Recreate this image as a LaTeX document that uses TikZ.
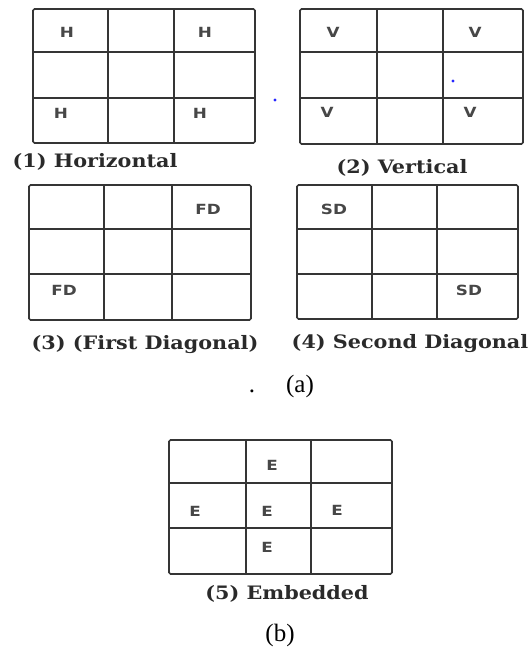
\documentclass[tikz,border=0pt]{standalone}
\usepackage{fontspec}
\setmainfont{Liberation Serif}
\newfontfamily\capfont{DejaVu Serif}
\newfontfamily\lblfont{DejaVu Sans}
\definecolor{gridgray}{HTML}{353535}
\definecolor{lblgray}{HTML}{474747}
\definecolor{capcolor}{HTML}{2A2A2A}
\newcommand{\threegrid}[8]{%
  \draw[gridline, rounded corners=1.5bp] (#1,#5) rectangle (#4,#8);
  \draw[gridline] (#2,#5) -- (#2,#8) (#3,#5) -- (#3,#8) (#1,#6) -- (#4,#6) (#1,#7) -- (#4,#7);
}
\newcommand{\wideL}[1]{\scalebox{1.2}[1]{#1}}
\newcommand{\wideC}[1]{\scalebox{1.12}[1]{#1}}
\tikzset{
  gridline/.style={draw=gridgray, line width=1.7bp},
  cell/.style={font=\lblfont\bfseries\fontsize{14bp}{16bp}\selectfont, text=lblgray, inner sep=0pt},
  capt/.style={font=\capfont\bfseries\fontsize{18.5bp}{20bp}\selectfont, text=capcolor, anchor=base, inner sep=0pt},
  sub/.style={font=\fontsize{25bp}{28bp}\selectfont, text=black, anchor=base, inner sep=0pt},
  bluedot/.style={fill=blue!85!white, draw=none},
}
\begin{document}
\begin{tikzpicture}[x=1bp,y=-1bp]
\useasboundingbox (0,0) rectangle (532,649);
\fill[white] (0,0) rectangle (532,649);
% grids
\threegrid{33}{108}{174}{255}{9}{52}{98}{143}
\threegrid{300}{377}{443}{523}{9}{52}{98}{144}
\threegrid{29}{104}{172}{251}{185}{229}{274}{320}
\threegrid{297}{372}{437}{518}{185}{229}{274}{319}
\threegrid{169}{246}{311}{392}{440}{483}{528}{574}
% labels grid 1
\node[cell] (h1) at (67,32) {\wideL{H}};
\node[cell] (h2) at (205,32) {\wideL{H}};
\node[cell] (h3) at (61,113) {\wideL{H}};
\node[cell] (h4) at (200,113) {\wideL{H}};
% grid 2
\node[cell] (v1) at (333,32) {\wideL{V}};
\node[cell] (v2) at (475,32) {\wideL{V}};
\node[cell] (v3) at (327,112) {\wideL{V}};
\node[cell] (v4) at (470,112) {\wideL{V}};
% grid 3
\node[cell] (fd1) at (208,209) {\wideL{FD}};
\node[cell] (fd2) at (64,290) {\wideL{FD}};
% grid 4
\node[cell] (sd1) at (334,209) {\wideL{SD}};
\node[cell] (sd2) at (469,290) {\wideL{SD}};
% grid 5
\node[cell] (e1) at (272,465) {\wideL{E}};
\node[cell] (e2) at (195,511) {\wideL{E}};
\node[cell] (e3) at (267,511) {\wideL{E}};
\node[cell] (e4) at (337,510) {\wideL{E}};
\node[cell] (e5) at (267,547) {\wideL{E}};
% captions
\node[capt] (c1) at (95,167) {\wideC{(1) Horizontal}};
\node[capt] (c2) at (402,173) {\wideC{(2) Vertical}};
\node[capt] (c3) at (145,349) {\wideC{(3) (First Diagonal)}};
\node[capt] (c4) at (410,348) {\wideC{(4) Second Diagonal}};
\node[capt] (c5) at (287,599) {\wideC{(5) Embedded}};
\node[sub] (dot) at (252,392) {.};
\node[sub] (sa) at (300,392) {(a)};
\node[sub] (sb) at (280,641) {(b)};
% stray blue dots
\fill[bluedot] (275,100) circle (1.6);
\fill[bluedot] (453,81) circle (1.6);
\end{tikzpicture}
\end{document}
